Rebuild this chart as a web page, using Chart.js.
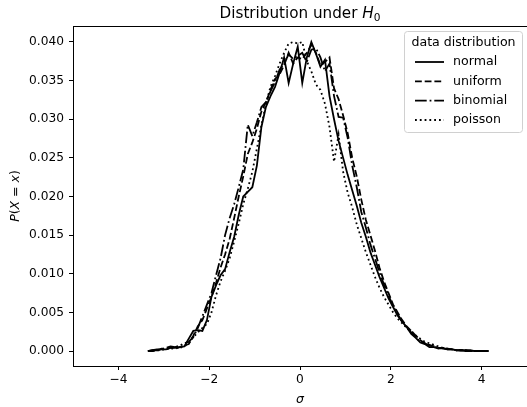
<!DOCTYPE html>
<html>
<head>
<meta charset="utf-8">
<script src="https://cdn.jsdelivr.net/npm/chart.js@4.4.1/dist/chart.umd.min.js"></script>
<style>
  html, body { margin: 0; padding: 0; background: #fff; }
  #wrap { width: 527px; height: 407px; }
</style>
</head>
<body>
<div id="wrap"><canvas id="myChart" width="527" height="407"></canvas></div>
<script>
const ctx = document.getElementById("myChart");

// bin centres in units of sigma
const sigma = [-3.35,-3.25,-3.15,-3.05,-2.95,-2.85,-2.75,-2.65,-2.55,-2.45,
  -2.35,-2.25,-2.15,-2.05,-1.95,-1.85,-1.75,-1.65,-1.55,-1.45,
  -1.35,-1.25,-1.15,-1.05,-0.95,-0.85,-0.75,-0.65,-0.55,-0.45,
  -0.35,-0.25,-0.15,-0.05,0.05,0.15,0.25,0.35,0.45,0.55,
  0.65,0.75,0.85,0.95,1.05,1.15,1.25,1.35,1.45,1.55,
  1.65,1.75,1.85,1.95,2.05,2.15,2.25,2.35,2.45,2.55,
  2.65,2.75,2.85,2.95,3.05,3.15,3.25,3.35,3.45,3.55,
  3.65,3.75,3.85,3.95,4.05,4.15];

const normal = [0.0000,0.0001,0.0001,0.0002,0.0002,0.0004,0.0004,0.0005,0.0006,0.0016,
  0.0026,0.0027,0.0026,0.0040,0.0070,0.0085,0.0098,0.0106,0.0128,0.0148,
  0.0176,0.0200,0.0206,0.0212,0.0240,0.0290,0.0316,0.0330,0.0342,0.0360,
  0.0380,0.0347,0.0372,0.0394,0.0347,0.0380,0.0400,0.0385,0.0368,0.0377,
  0.0330,0.0300,0.0272,0.0250,0.0228,0.0208,0.0188,0.0166,0.0148,0.0128,
  0.0112,0.0096,0.0082,0.0068,0.0057,0.0046,0.0038,0.0031,0.0022,0.0017,
  0.0011,0.0009,0.0005,0.0005,0.0003,0.0004,0.0002,0.0002,0.0001,0.0001,
  0.0001,0.0001,0.0000,0.0000,0.0000,0.0000];

const uniform = [0.0000,0.0000,0.0001,0.0003,0.0003,0.0005,0.0003,0.0005,0.0007,0.0009,
  0.0020,0.0032,0.0040,0.0055,0.0070,0.0088,0.0108,0.0125,0.0145,0.0172,
  0.0200,0.0226,0.0255,0.0270,0.0288,0.0310,0.0322,0.0338,0.0352,0.0358,
  0.0370,0.0386,0.0372,0.0380,0.0378,0.0386,0.0396,0.0386,0.0370,0.0374,
  0.0380,0.0340,0.0326,0.0305,0.0282,0.0250,0.0226,0.0196,0.0170,0.0150,
  0.0130,0.0108,0.0090,0.0075,0.0060,0.0050,0.0040,0.0032,0.0026,0.0020,
  0.0014,0.0010,0.0008,0.0006,0.0004,0.0004,0.0003,0.0002,0.0001,0.0001,
  0.0001,0.0000,0.0000,0.0000,0.0000,0.0000];

const binomial = [0.0000,0.0001,0.0002,0.0002,0.0004,0.0006,0.0005,0.0007,0.0010,0.0012,
  0.0018,0.0030,0.0045,0.0060,0.0075,0.0098,0.0120,0.0150,0.0172,0.0190,
  0.0212,0.0235,0.0293,0.0278,0.0296,0.0316,0.0322,0.0336,0.0348,0.0364,
  0.0372,0.0384,0.0378,0.0382,0.0386,0.0374,0.0390,0.0392,0.0380,0.0362,
  0.0372,0.0330,0.0303,0.0302,0.0276,0.0240,0.0212,0.0180,0.0160,0.0138,
  0.0120,0.0102,0.0086,0.0072,0.0058,0.0048,0.0038,0.0030,0.0024,0.0018,
  0.0012,0.0010,0.0007,0.0006,0.0004,0.0003,0.0002,0.0002,0.0001,0.0001,
  0.0000,0.0000,0.0000,0.0000,0.0000,0.0000];

const poisson = [0.0000,0.0000,0.0001,0.0001,0.0003,0.0002,0.0005,0.0004,0.0006,0.0010,
  0.0018,0.0024,0.0030,0.0035,0.0050,0.0072,0.0090,0.0104,0.0120,0.0142,
  0.0165,0.0190,0.0210,0.0232,0.0262,0.0292,0.0320,0.0342,0.0356,0.0372,
  0.0386,0.0398,0.0400,0.0398,0.0400,0.0375,0.0362,0.0345,0.0338,0.0320,
  0.0290,0.0245,0.0280,0.0232,0.0205,0.0186,0.0164,0.0146,0.0128,0.0112,
  0.0096,0.0082,0.0070,0.0060,0.0050,0.0042,0.0036,0.0030,0.0026,0.0020,
  0.0016,0.0012,0.0010,0.0008,0.0006,0.0004,0.0003,0.0002,0.0001,0.0001,
  0.0001,0.0000,0.0000,0.0000,null,null];

const seriesNames = ["normal", "uniform", "binomial", "poisson"];
const seriesDash = [[], [6.8, 2.9], [11.7, 2.9, 1.8, 2.9], [1.8, 3.0]];
const xTicks = [-4, -2, 0, 2, 4];
const yTicks = [0, 0.005, 0.01, 0.015, 0.02, 0.025, 0.03, 0.035, 0.04];

const FONT = "'DejaVu Sans', sans-serif";

function pairs(ys) {
  return sigma.map(function (x, i) {
    return { x: x, y: ys[i] };
  });
}

// draws a row of text pieces with different fonts, centred on cx
function drawRuns(c, runs, cx, y) {
  let total = 0;
  runs.forEach(function (r) {
    c.font = r[1];
    total += c.measureText(r[0]).width;
  });
  let x = cx - total / 2;
  runs.forEach(function (r) {
    c.font = r[1];
    c.fillText(r[0], x, y + (r[2] || 0));
    x += c.measureText(r[0]).width;
  });
}

const decor = {
  id: "decor",
  afterDraw(chart) {
    const c = chart.ctx;
    const a = chart.chartArea;
    c.save();
    c.strokeStyle = "#000";
    c.lineWidth = 1;
    c.beginPath();
    c.moveTo(a.left, a.top + 0.5);
    c.lineTo(a.right, a.top + 0.5);
    c.stroke();

    c.fillStyle = "#000";
    c.textAlign = "left";
    c.textBaseline = "alphabetic";
    // title
    drawRuns(c, [
      ["Distribution under ", "15.2px " + FONT],
      ["H", "italic 15.2px " + FONT],
      ["0", "10.6px " + FONT, 3]
    ], (a.left + a.right) / 2, 18);

    // x label
    drawRuns(c, [["σ", "italic 12.5px " + FONT]], (a.left + a.right) / 2, 403);

    // y label
    c.save();
    c.translate(19, (a.top + a.bottom) / 2);
    c.rotate(-Math.PI / 2);
    drawRuns(c, [
      ["P", "italic 12.5px " + FONT],
      ["(", "12.5px " + FONT],
      ["X", "italic 12.5px " + FONT],
      [" = ", "12.5px " + FONT],
      ["x", "italic 12.5px " + FONT],
      [")", "12.5px " + FONT]
    ], 0, 0);
    c.restore();

    // legend
    const bx = 404.5, by = 31.5, bw = 118, bh = 101;
    c.beginPath();
    c.roundRect(bx, by, bw, bh, 3);
    c.fillStyle = "rgba(255,255,255,0.8)";
    c.fill();
    c.strokeStyle = "#d0d0d0";
    c.lineWidth = 1;
    c.stroke();

    c.fillStyle = "#000";
    c.textBaseline = "middle";
    c.textAlign = "center";
    c.font = "12.6px " + FONT;
    c.fillText("data distribution", bx + bw / 2, 43);

    const rowsY = [62, 81.3, 100.7, 120];
    seriesNames.forEach(function (name, i) {
      c.strokeStyle = "#000";
      c.lineWidth = 1.8;
      c.setLineDash(seriesDash[i]);
      c.beginPath();
      c.moveTo(415, rowsY[i]);
      c.lineTo(444, rowsY[i]);
      c.stroke();
      c.setLineDash([]);
      c.textAlign = "left";
      c.fillText(name, 453, rowsY[i]);
    });
    c.restore();
  }
};

const allSeries = [normal, uniform, binomial, poisson];

new Chart(ctx, {
  type: "line",
  data: {
    datasets: allSeries.map(function (ys, i) {
      return {
        label: seriesNames[i],
        data: pairs(ys),
        borderColor: "#000",
        borderWidth: 1.8,
        borderDash: seriesDash[i],
        pointRadius: 0,
        tension: 0,
        fill: false,
        spanGaps: false,
      };
    }),
  },
  options: {
    responsive: false,
    animation: false,
    devicePixelRatio: 1,
    layout: { padding: { top: 26, left: 0, right: 0, bottom: 0 } },
    plugins: {
      legend: { display: false },
      title: { display: false },
      tooltip: { enabled: false },
    },
    scales: {
      x: {
        type: "linear",
        min: -5,
        max: 5,
        afterBuildTicks: function (scale) {
          scale.ticks = xTicks.map(function (v) { return { value: v }; });
        },
        afterFit: function (scale) { scale.height = 41; },
        grid: { drawOnChartArea: false, drawTicks: true, tickLength: 4, color: "#000", lineWidth: 1 },
        border: { display: true, color: "#000", width: 1 },
        ticks: {
          color: "#000",
          padding: 3,
          maxRotation: 0,
          font: { family: "DejaVu Sans", size: 12.2 },
          callback: function (v) { return v < 0 ? "\u2212" + Math.abs(v) : String(v); },
        },
      },
      y: {
        type: "linear",
        min: -0.00194,
        max: 0.04207,
        afterBuildTicks: function (scale) {
          scale.ticks = yTicks.map(function (v) { return { value: v }; });
        },
        afterFit: function (scale) { scale.width = 73; },
        grid: { drawOnChartArea: false, drawTicks: true, tickLength: 4, color: "#000", lineWidth: 1 },
        border: { display: true, color: "#000", width: 1 },
        ticks: {
          color: "#000",
          padding: 5,
          font: { family: "DejaVu Sans", size: 12.2 },
          callback: function (v) { return v.toFixed(3); },
        },
      },
    },
  },
  plugins: [decor],
});
</script>
</body>
</html>
